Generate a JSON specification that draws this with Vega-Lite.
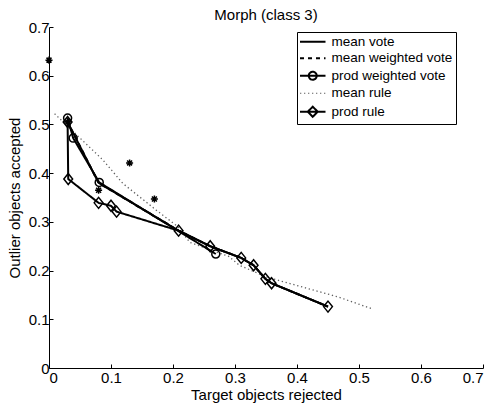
{
  "$schema": "https://vega.github.io/schema/vega-lite/v6.json",
  "autosize": {"type": "none"},
  "padding": {"left": 49, "top": 27, "right": 9, "bottom": 41},
  "width": 434,
  "height": 341,
  "title": {"text": "Morph (class 3)", "frame": "group", "anchor": "middle", "baseline": "bottom", "offset": 9, "dy": 27, "font": "Liberation Sans", "fontSize": 15, "fontWeight": "normal", "color": "black"},
  "config": {
    "view": {"stroke": null},
    "axis": {"grid": false, "domainColor": "black", "tickColor": "black", "labelColor": "black", "titleColor": "black", "labelFont": "Liberation Sans", "titleFont": "Liberation Sans", "labelFontSize": 15, "titleFontSize": 15, "titleFontWeight": "normal", "tickSize": -4, "domainWidth": 1, "tickWidth": 1}
  },
  "datasets": {
    "lines": [
      {"series": "mean rule", "i": 0, "x": 0.009, "y": 0.522},
      {"series": "mean rule", "i": 1, "x": 0.05, "y": 0.472},
      {"series": "mean rule", "i": 2, "x": 0.087, "y": 0.427},
      {"series": "mean rule", "i": 3, "x": 0.119, "y": 0.379},
      {"series": "mean rule", "i": 4, "x": 0.173, "y": 0.324},
      {"series": "mean rule", "i": 5, "x": 0.208, "y": 0.29},
      {"series": "mean rule", "i": 6, "x": 0.227, "y": 0.258},
      {"series": "mean rule", "i": 7, "x": 0.29, "y": 0.229},
      {"series": "mean rule", "i": 8, "x": 0.307, "y": 0.211},
      {"series": "mean rule", "i": 9, "x": 0.35, "y": 0.187},
      {"series": "mean rule", "i": 10, "x": 0.466, "y": 0.146},
      {"series": "mean rule", "i": 11, "x": 0.52, "y": 0.122},
      {"series": "mean vote", "i": 0, "x": 0.03, "y": 0.505},
      {"series": "mean vote", "i": 1, "x": 0.08, "y": 0.38},
      {"series": "mean vote", "i": 2, "x": 0.209, "y": 0.282},
      {"series": "mean vote", "i": 3, "x": 0.26, "y": 0.25},
      {"series": "mean vote", "i": 4, "x": 0.31, "y": 0.226},
      {"series": "mean vote", "i": 5, "x": 0.33, "y": 0.211},
      {"series": "mean vote", "i": 6, "x": 0.349, "y": 0.183},
      {"series": "mean vote", "i": 7, "x": 0.359, "y": 0.174},
      {"series": "mean vote", "i": 8, "x": 0.45, "y": 0.126},
      {"series": "mean weighted vote", "i": 0, "x": 0.03, "y": 0.505},
      {"series": "mean weighted vote", "i": 1, "x": 0.08, "y": 0.38},
      {"series": "mean weighted vote", "i": 2, "x": 0.209, "y": 0.282},
      {"series": "mean weighted vote", "i": 3, "x": 0.26, "y": 0.25},
      {"series": "mean weighted vote", "i": 4, "x": 0.31, "y": 0.226},
      {"series": "mean weighted vote", "i": 5, "x": 0.33, "y": 0.211},
      {"series": "mean weighted vote", "i": 6, "x": 0.349, "y": 0.183},
      {"series": "mean weighted vote", "i": 7, "x": 0.359, "y": 0.174},
      {"series": "mean weighted vote", "i": 8, "x": 0.45, "y": 0.126},
      {"series": "prod weighted vote", "i": 0, "x": 0.03, "y": 0.513},
      {"series": "prod weighted vote", "i": 1, "x": 0.039, "y": 0.472},
      {"series": "prod weighted vote", "i": 2, "x": 0.081, "y": 0.381},
      {"series": "prod weighted vote", "i": 3, "x": 0.269, "y": 0.234},
      {"series": "prod rule", "i": 0, "x": 0.03, "y": 0.505},
      {"series": "prod rule", "i": 1, "x": 0.031, "y": 0.388},
      {"series": "prod rule", "i": 2, "x": 0.08, "y": 0.339},
      {"series": "prod rule", "i": 3, "x": 0.1, "y": 0.333},
      {"series": "prod rule", "i": 4, "x": 0.109, "y": 0.321},
      {"series": "prod rule", "i": 5, "x": 0.209, "y": 0.282},
      {"series": "prod rule", "i": 6, "x": 0.26, "y": 0.25},
      {"series": "prod rule", "i": 7, "x": 0.31, "y": 0.226},
      {"series": "prod rule", "i": 8, "x": 0.33, "y": 0.211},
      {"series": "prod rule", "i": 9, "x": 0.349, "y": 0.183},
      {"series": "prod rule", "i": 10, "x": 0.359, "y": 0.174},
      {"series": "prod rule", "i": 11, "x": 0.45, "y": 0.126}
    ],
    "markers": [
      {"marker": "star", "x": 0, "y": 0.632},
      {"marker": "star", "x": 0.03, "y": 0.505},
      {"marker": "star", "x": 0.08, "y": 0.365},
      {"marker": "star", "x": 0.13, "y": 0.421},
      {"marker": "star", "x": 0.17, "y": 0.347},
      {"marker": "circle", "x": 0.03, "y": 0.513},
      {"marker": "circle", "x": 0.039, "y": 0.472},
      {"marker": "circle", "x": 0.081, "y": 0.381},
      {"marker": "circle", "x": 0.269, "y": 0.234},
      {"marker": "diamond", "x": 0.03, "y": 0.505},
      {"marker": "diamond", "x": 0.031, "y": 0.388},
      {"marker": "diamond", "x": 0.08, "y": 0.339},
      {"marker": "diamond", "x": 0.1, "y": 0.333},
      {"marker": "diamond", "x": 0.109, "y": 0.321},
      {"marker": "diamond", "x": 0.209, "y": 0.282},
      {"marker": "diamond", "x": 0.26, "y": 0.25},
      {"marker": "diamond", "x": 0.31, "y": 0.226},
      {"marker": "diamond", "x": 0.33, "y": 0.211},
      {"marker": "diamond", "x": 0.349, "y": 0.183},
      {"marker": "diamond", "x": 0.359, "y": 0.174},
      {"marker": "diamond", "x": 0.45, "y": 0.126}
    ]
  },
  "layer": [
    {
      "data": {"name": "lines"},
      "transform": [{"filter": "datum.series === 'mean rule'"}],
      "mark": {"type": "line", "strokeWidth": 1.3},
      "encoding": {
        "x": {"field": "x", "type": "quantitative", "scale": {"domain": [0, 0.7], "nice": false, "zero": false}, "axis": {"title": "Target objects rejected", "values": [0, 0.1, 0.2, 0.3, 0.4, 0.5, 0.6, 0.7], "format": "~g", "labelPadding": 6, "titlePadding": 2}},
        "y": {"field": "y", "type": "quantitative", "scale": {"domain": [0, 0.7], "nice": false, "zero": false}, "axis": {"title": "Outlier objects accepted", "values": [0, 0.1, 0.2, 0.3, 0.4, 0.5, 0.6, 0.7], "format": "~g", "labelPadding": 4, "titlePadding": 6}},
        "order": {"field": "i", "type": "quantitative"},
        "color": {"field": "series", "type": "nominal", "scale": {"domain": ["mean vote", "mean weighted vote", "prod weighted vote", "mean rule", "prod rule"], "range": ["black", "black", "black", "#606060", "black"]},
          "legend": {"title": null, "orient": "none", "legendX": 248, "legendY": 5, "strokeColor": "black", "fillColor": "white", "padding": 3, "symbolSize": 289, "symbolOffset": 6, "labelOffset": 12, "rowPadding": 1.5, "labelFont": "Liberation Sans", "labelFontSize": 13.5, "labelColor": "black",
            "encode": {"symbols": {"update": {"shape": {"signal": "datum.value === 'prod weighted vote' ? 'M-1.5,0H1.5M0.47,0A0.47,0.47,0,1,1,-0.47,0A0.47,0.47,0,1,1,0.47,0' : datum.value === 'prod rule' ? 'M-1.5,0H1.5M0,-0.59L0.59,0L0,0.59L-0.59,0Z' : 'M-1.5,0H1.5'"}, "strokeWidth": {"signal": "datum.value === 'mean rule' ? 1 : 2"}, "fill": {"value": "transparent"}}}}}},
        "strokeDash": {"field": "series", "type": "nominal", "scale": {"domain": ["mean vote", "mean weighted vote", "prod weighted vote", "mean rule", "prod rule"], "range": [[1, 0], [4, 4], [1, 0], [1.3, 2.7], [1, 0]]}}
      }
    },
    {
      "data": {"name": "lines"},
      "transform": [{"filter": "datum.series !== 'mean rule'"}],
      "mark": {"type": "line", "strokeWidth": 2},
      "encoding": {
        "x": {"field": "x", "type": "quantitative"},
        "y": {"field": "y", "type": "quantitative"},
        "order": {"field": "i", "type": "quantitative"},
        "color": {"field": "series", "type": "nominal"},
        "strokeDash": {"field": "series", "type": "nominal"}
      }
    },
    {
      "data": {"name": "markers"},
      "mark": {"type": "point", "filled": false, "color": "black", "strokeWidth": 1.5, "size": 121, "opacity": 1},
      "encoding": {
        "x": {"field": "x", "type": "quantitative"},
        "y": {"field": "y", "type": "quantitative"},
        "shape": {"field": "marker", "type": "nominal", "legend": null, "scale": {"domain": ["circle", "diamond", "star"], "range": ["M0.73,0A0.73,0.73,0,1,1,-0.73,0A0.73,0.73,0,1,1,0.73,0Z", "M0,-1L0.8,0L0,1L-0.8,0Z", "M-0.64,0H0.64M0,-0.64V0.64M-0.45,-0.45L0.45,0.45M-0.45,0.45L0.45,-0.45"]}}
      }
    }
  ]
}
